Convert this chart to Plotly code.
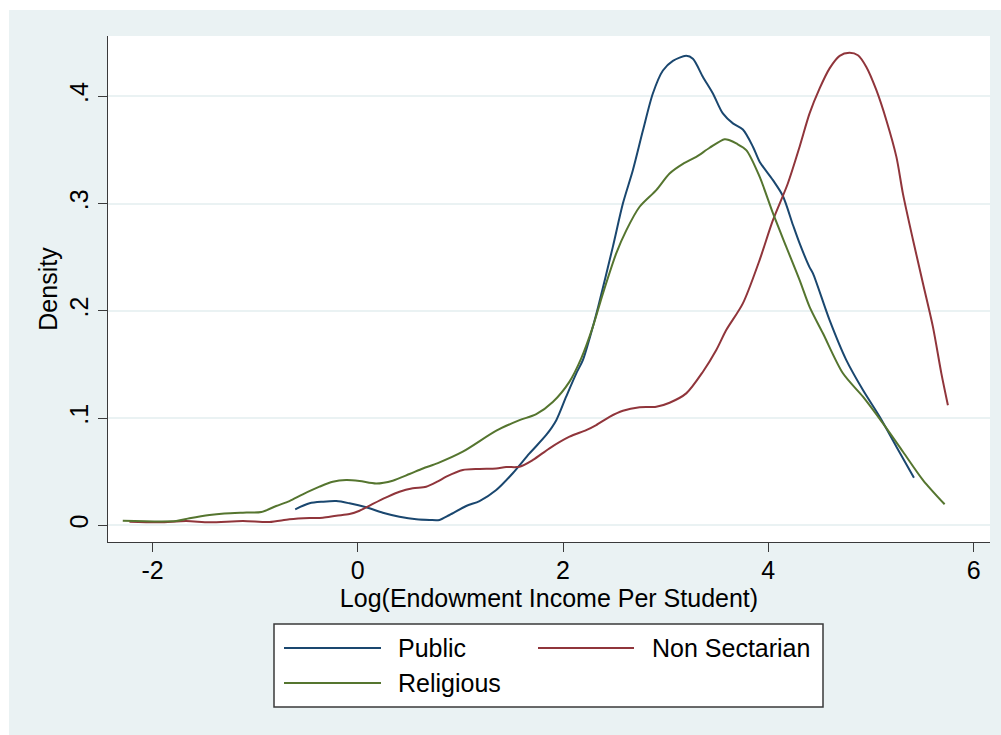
import plotly.graph_objects as go

# Kernel density estimates of log endowment income per student, by control type
public_x = [-0.61, -0.47, -0.341, -0.21, -0.081, 0.082, 0.244, 0.406, 0.57, 0.70, 0.796, 0.894,
            1.056, 1.186, 1.349, 1.51, 1.673, 1.836, 1.934, 2.03, 2.129, 2.193, 2.29, 2.343,
            2.485, 2.583, 2.68, 2.778, 2.875, 2.973, 3.07, 3.20, 3.265, 3.363, 3.46, 3.557,
            3.655, 3.752, 3.85, 3.915, 4.045, 4.142, 4.24, 4.305, 4.40, 4.435, 4.597, 4.76,
            4.922, 5.085, 5.248, 5.419]
public_y = [0.0149, 0.0205, 0.022, 0.0226, 0.0205, 0.0168, 0.0117, 0.008, 0.0056, 0.005, 0.005, 0.0096,
            0.018, 0.0226, 0.0329, 0.0485, 0.067, 0.0842, 0.098, 0.1199, 0.1417, 0.154, 0.185, 0.204,
            0.2596, 0.300, 0.331, 0.368, 0.4026, 0.424, 0.433, 0.4377, 0.435, 0.418, 0.4026, 0.384,
            0.3747, 0.369, 0.353, 0.339, 0.3218, 0.307, 0.28, 0.2628, 0.241, 0.2349, 0.1913, 0.154,
            0.1261, 0.1012, 0.0733, 0.0444]

nonsect_x = [-2.225, -1.933, -1.673, -1.445, -1.12, -0.861, -0.666, -0.47, -0.341, -0.21, -0.081, 0.017,
             0.146, 0.277, 0.406, 0.536, 0.666, 0.78, 0.862, 1.023, 1.186, 1.349, 1.446, 1.576,
             1.706, 1.868, 2.063, 2.226, 2.323, 2.453, 2.583, 2.746, 2.908, 3.038, 3.20, 3.363,
             3.493, 3.59, 3.752, 3.915, 4.045, 4.19, 4.305, 4.402, 4.50, 4.597, 4.695, 4.79,
             4.873, 4.955, 5.053, 5.15, 5.248, 5.312, 5.41, 5.507, 5.604, 5.686, 5.75]
nonsect_y = [0.0034, 0.0028, 0.004, 0.0028, 0.004, 0.0031, 0.0056, 0.0068, 0.0071, 0.009, 0.0105, 0.0136,
             0.0199, 0.026, 0.0313, 0.0345, 0.036, 0.041, 0.0453, 0.0515, 0.0525, 0.053, 0.0543, 0.0546,
             0.0609, 0.0718, 0.0826, 0.0888, 0.0935, 0.1012, 0.1068, 0.11, 0.1105, 0.1143, 0.123, 0.1432,
             0.1634, 0.182, 0.2069, 0.2473, 0.2845, 0.3187, 0.353, 0.384, 0.4073, 0.426, 0.4377, 0.4405,
             0.4383, 0.4274, 0.4057, 0.3777, 0.3435, 0.309, 0.266, 0.2255, 0.185, 0.1417, 0.112]

religious_x = [-2.29, -1.77, -1.64, -1.445, -1.30, -1.12, -0.94, -0.795, -0.666, -0.536, -0.373, -0.244,
               -0.113, 0.017, 0.179, 0.34, 0.504, 0.634, 0.78, 1.023, 1.35, 1.576, 1.739, 1.90,
               2.063, 2.177, 2.29, 2.388, 2.518, 2.616, 2.746, 2.908, 3.038, 3.168, 3.298, 3.428,
               3.574, 3.623, 3.688, 3.785, 3.915, 4.045, 4.175, 4.305, 4.402, 4.532, 4.727, 4.922,
               5.117, 5.312, 5.507, 5.718]
religious_y = [0.0043, 0.004, 0.0065, 0.0096, 0.011, 0.0118, 0.0124, 0.018, 0.0226, 0.0289, 0.036, 0.0406,
               0.0422, 0.0413, 0.039, 0.0416, 0.0478, 0.053, 0.058, 0.0686, 0.0882, 0.098, 0.1037, 0.115,
               0.134, 0.1556, 0.185, 0.216, 0.2535, 0.275, 0.297, 0.3125, 0.328, 0.337, 0.3435, 0.352,
               0.360, 0.359, 0.356, 0.3498, 0.325, 0.291, 0.2596, 0.2286, 0.2037, 0.179, 0.1417, 0.1199,
               0.095, 0.0686, 0.0422, 0.0196]

series_names = ["Public", "Non Sectarian", "Religious"]
series_colors = ["#1A476F", "#90353B", "#55752F"]

x_ticks = [-2, 0, 2, 4, 6]
x_tick_text = ["-2", "0", "2", "4", "6"]
y_ticks = [0, 0.1, 0.2, 0.3, 0.4]
y_tick_text = ["0", ".1", ".2", ".3", ".4"]

FONT = "Liberation Sans, Arial, sans-serif"
BG = "#EAF2F3"
W, H = 1001, 735
L, R, T, B = 108, 11, 36, 193
PW, PH = W - L - R, H - T - B


def px_to_paper(px, py):
    return (px - L) / PW, (H - B - py) / PH


fig = go.Figure()
for name, xs, ys, col in zip(series_names,
                             [public_x, nonsect_x, religious_x],
                             [public_y, nonsect_y, religious_y],
                             series_colors):
    fig.add_trace(go.Scatter(x=xs, y=ys, mode="lines", name=name, showlegend=False,
                             line=dict(color=col, width=2, shape="spline", smoothing=0.8)))

shapes = []
# white margin strips around the graph region
x0, y0 = px_to_paper(0, 0)
x1, y1 = px_to_paper(W, 10)
shapes.append(dict(type="rect", xref="paper", yref="paper", x0=x0, x1=x1, y0=y1, y1=y0 + 0.01,
                   fillcolor="white", line_width=0, layer="below"))
x0, y0 = px_to_paper(0, 0)
x1, y1 = px_to_paper(9, H)
shapes.append(dict(type="rect", xref="paper", yref="paper", x0=x0 - 0.01, x1=x1, y0=y1 - 0.01, y1=y0 + 0.01,
                   fillcolor="white", line_width=0, layer="below"))

# legend box
bx0, by0 = px_to_paper(274, 624)
bx1, by1 = px_to_paper(823, 707)
shapes.append(dict(type="rect", xref="paper", yref="paper", x0=bx0, x1=bx1, y0=by1, y1=by0,
                   fillcolor="white", line=dict(color="#3a3a3a", width=1.5)))

legend_rows = [(284, 381, 648, 396), (538, 634, 648, 650), (284, 381, 683, 396)]
annotations = []
for (lx0, lx1, ly, tx), name, col in zip(legend_rows, series_names, series_colors):
    a0, b0 = px_to_paper(lx0, ly)
    a1, _ = px_to_paper(lx1, ly)
    shapes.append(dict(type="line", xref="paper", yref="paper", x0=a0, x1=a1, y0=b0, y1=b0,
                       line=dict(color=col, width=2)))
    ta, tb = px_to_paper(tx, ly)
    annotations.append(dict(xref="paper", yref="paper", x=ta, y=tb, xanchor="left", yanchor="middle",
                            text=name, showarrow=False, font=dict(family=FONT, size=25, color="black")))

fig.update_layout(
    width=W, height=H,
    margin=dict(l=L, r=R, t=T, b=B, pad=0),
    paper_bgcolor=BG, plot_bgcolor="white",
    font=dict(family=FONT, size=25, color="black"),
    shapes=shapes, annotations=annotations,
    xaxis=dict(range=[-2.434, 6.160], tickvals=x_ticks, ticktext=x_tick_text, ticks="outside",
               ticklen=9, tickwidth=1.3, ticklabelstandoff=-3,
               tickcolor="#3a3a3a", showline=True, linecolor="#3a3a3a", linewidth=1.3,
               showgrid=False, zeroline=False,
               title=dict(text="Log(Endowment Income Per Student)", standoff=0,
                          font=dict(family=FONT, size=25, color="black"))),
    yaxis=dict(range=[-0.01557, 0.4562], tickvals=y_ticks, ticktext=y_tick_text, tickangle=-90,
               ticks="outside", ticklen=9, tickwidth=1.3, tickcolor="#3a3a3a",
               showline=True, linecolor="#3a3a3a", linewidth=1.3,
               showgrid=True, gridcolor=BG, gridwidth=1.8, zeroline=False,
               title=dict(text="Density", standoff=0, font=dict(family=FONT, size=25, color="black"))),
)

fig.write_html("out.html")
